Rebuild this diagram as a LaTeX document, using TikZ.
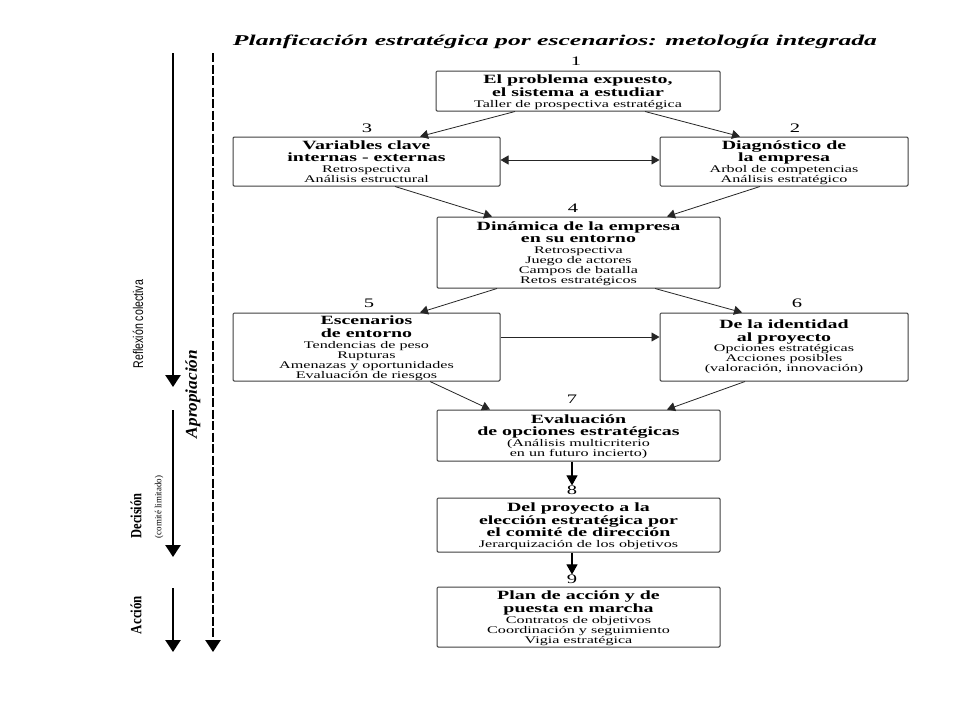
\documentclass[tikz,border=0pt]{standalone}
\usepackage{fontspec}
\setmainfont{Liberation Serif}
\newfontfamily\lsans{Liberation Sans}
\usepackage{graphicx}
\usetikzlibrary{arrows.meta}

\newcommand{\Bf}[1]{\rule[-3.5pt]{0pt}{15pt}{\bfseries\fontsize{12.6}{12.5}\selectfont #1}}
\newcommand{\Bl}[1]{\rule[-3.5pt]{0pt}{12.5pt}{\bfseries\fontsize{12.6}{12.5}\selectfont #1}}
\newcommand{\Sm}[1]{\rule[-2.7pt]{0pt}{10pt}{\fontsize{10.2}{10}\selectfont #1}}
\newcommand{\btext}[1]{\scalebox{1.58}[1]{\renewcommand{\arraystretch}{0}\begin{tabular}{@{}c@{}}#1\end{tabular}}}
\newcommand{\nm}[1]{\scalebox{1.58}[1]{\fontsize{13}{14}\selectfont #1}}

\begin{document}
\begin{tikzpicture}[x=1pt,y=-1pt,
  box/.style={draw=black!75, line width=1pt, rounded corners=1.2pt, inner sep=0pt, fill=white},
  num/.style={inner sep=0pt},
  conn/.style={draw=black!85, line width=0.8pt, -{Triangle[length=8pt,width=9pt]}},
  dconn/.style={draw=black!85, line width=0.8pt, {Triangle[length=8pt,width=9pt]}-{Triangle[length=8pt,width=9pt]}},
  vconn/.style={draw=black, line width=1.1pt, -{Triangle[length=10pt,width=11pt]}},
  bigarrow/.style={draw=black, line width=2.6pt, -{Triangle[length=12pt,width=15pt]}},
  lbl/.style={inner sep=0pt}]
\useasboundingbox (0,0) rectangle (960,720);
\fill[white] (0,0) rectangle (960,720);

% title
\node[lbl] (title) at (555,42) {\resizebox{644pt}{\height}{\fontsize{15}{16}\selectfont\bfseries\itshape Planficación estratégica por escenarios: metología integrada}};

% boxes
\node[box, minimum width=284pt, minimum height=40pt] (b1) at (578,91)
  {\btext{\Bf{El problema expuesto,}\\ \Bl{el sistema a estudiar}\\ \Sm{Taller de prospectiva estratégica}}};
\node[box, minimum width=267pt, minimum height=49pt] (b3) at (366.5,161.5)
  {\btext{\Bf{Variables clave}\\ \Bl{internas - externas}\\ \Sm{Retrospectiva}\\ \Sm{Análisis estructural}}};
\node[box, minimum width=248pt, minimum height=49pt] (b2) at (784,161.5)
  {\btext{\Bf{Diagnóstico de}\\ \Bl{la empresa}\\ \Sm{Arbol de competencias}\\ \Sm{Análisis estratégico}}};
\node[box, minimum width=283pt, minimum height=71pt] (b4) at (578.5,252.5)
  {\btext{\Bf{Dinámica de la empresa}\\ \Bl{en su entorno}\\ \Sm{Retrospectiva}\\ \Sm{Juego de actores}\\ \Sm{Campos de batalla}\\ \Sm{Retos estratégicos}}};
\node[box, minimum width=267pt, minimum height=68pt] (b5) at (366.5,347)
  {\btext{\Bf{Escenarios}\\ \Bl{de entorno}\\ \Sm{Tendencias de peso}\\ \Sm{Rupturas}\\ \Sm{Amenazas y oportunidades}\\ \Sm{Evaluación de riesgos}}};
\node[box, minimum width=248pt, minimum height=68pt] (b6) at (784,347)
  {\btext{\Bf{De la identidad}\\ \Bl{al proyecto}\\[1.5pt] \Sm{Opciones estratégicas}\\ \Sm{Acciones posibles}\\ \Sm{(valoración, innovación)}\\[5pt]}};
\node[box, minimum width=283pt, minimum height=51pt] (b7) at (578.5,435.5)
  {\btext{\Bf{Evaluación}\\ \Bl{de opciones estratégicas}\\[3pt] \Sm{(Análisis multicriterio}\\ \Sm{en un futuro incierto)}}};
\node[box, minimum width=283pt, minimum height=54pt] (b8) at (578.5,525)
  {\btext{\Bf{Del proyecto a la}\\ \Bl{elección estratégica por}\\ \Bl{el comité de dirección}\\ \Sm{Jerarquización de los objetivos}\\[2pt]}};
\node[box, minimum width=283pt, minimum height=60pt] (b9) at (578.5,617)
  {\btext{\Bf{Plan de acción y de}\\ \Bl{puesta en marcha}\\ \Sm{Contratos de objetivos}\\ \Sm{Coordinación y seguimiento}\\ \Sm{Vigia estratégica}}};

% numbers
\node[num] (n1) at (576,61) {\nm{1}};
\node[num] (n3) at (367,128) {\nm{3}};
\node[num] (n2) at (795,128) {\nm{2}};
\node[num] (n4) at (573,208) {\nm{4}};
\node[num] (n5) at (369,303) {\nm{5}};
\node[num] (n6) at (797,303) {\nm{6}};
\node[num] (n7) at (572,399) {\nm{7}};
\node[num] (n8) at (572,490) {\nm{8}};
\node[num] (n9) at (572,579) {\nm{9}};

% connectors
\draw[conn] ([xshift=-63pt]b1.south) -- ([xshift=53.5pt]b3.north);
\draw[conn] ([xshift=67pt]b1.south) -- ([xshift=-44pt]b2.north);
\draw[dconn] ([yshift=1.5pt]b3.east) -- ([yshift=1.5pt]b2.west);
\draw[conn] ([xshift=28.5pt]b3.south) -- ([xshift=-86.5pt]b4.north);
\draw[conn] ([xshift=-24pt]b2.south) -- ([xshift=88.5pt]b4.north);
\draw[conn] ([xshift=-81.5pt]b4.south) -- ([xshift=53.5pt]b5.north);
\draw[conn] ([xshift=76.5pt]b4.south) -- ([xshift=-42pt]b6.north);
\draw[conn] ([yshift=10pt]b5.east) -- ([yshift=10pt]b6.west);
\draw[conn] ([xshift=63.5pt]b5.south) -- ([xshift=-88.5pt]b7.north);
\draw[conn] ([xshift=-39pt]b6.south) -- ([xshift=88.5pt]b7.north);
\draw[vconn] ([xshift=-6.5pt]b7.south) -- (n8.north);
\draw[vconn] ([xshift=-6.5pt]b8.south) -- (n9.north);

% left process arrows
\coordinate (r1s) at (173,53);
\coordinate (r1e) at (173,387);
\coordinate (r2s) at (173,410);
\coordinate (r2e) at (173,557);
\coordinate (r3s) at (173,588);
\coordinate (r3e) at (173,652);
\coordinate (dss) at (213,53);
\coordinate (dse) at (213,652);
\draw[bigarrow] (r1s) -- (r1e);
\draw[bigarrow] (r2s) -- (r2e);
\draw[bigarrow] (r3s) -- (r3e);
\draw[bigarrow, dash pattern=on 9pt off 2.5pt] (dss) -- (dse);

% left labels
\node[lbl] (lrefl) at (138,324) {\resizebox{10.5pt}{88pt}{\rotatebox{90}{\lsans Reflexión colectiva}}};
\node[lbl] (ldec) at (136,516) {\resizebox{11pt}{45pt}{\rotatebox{90}{\bfseries Decisión}}};
\node[lbl] (lcom) at (159,507) {\resizebox{8.5pt}{62pt}{\rotatebox{90}{(comité limitado)}}};
\node[lbl] (lacc) at (136,615) {\resizebox{11pt}{38pt}{\rotatebox{90}{\bfseries Acción}}};
\node[lbl] (lapr) at (193,394) {\resizebox{15pt}{88pt}{\rotatebox{90}{\bfseries\itshape Apropiación}}};
\end{tikzpicture}
\end{document}
